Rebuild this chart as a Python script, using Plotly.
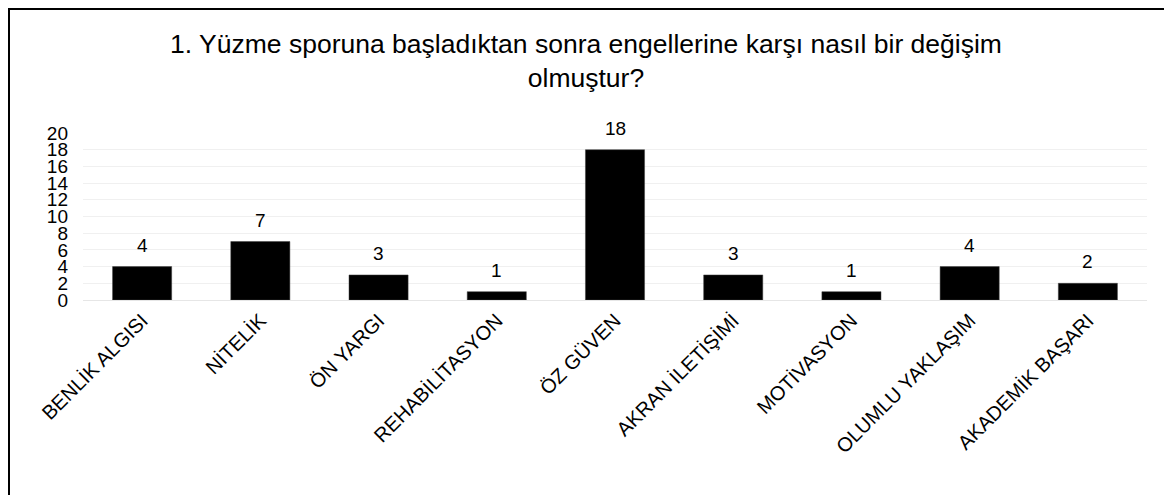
import plotly.graph_objects as go

categories = ["BENLİK ALGISI", "NİTELİK", "ÖN YARGI", "REHABİLİTASYON", "ÖZ GÜVEN",
              "AKRAN İLETİŞİMİ", "MOTİVASYON", "OLUMLU YAKLAŞIM", "AKADEMİK BAŞARI"]
values = [4, 7, 3, 1, 18, 3, 1, 4, 2]
title_text = "1. Yüzme sporuna başladıktan sonra engellerine karşı nasıl bir değişim<br>olmuştur?"

FONT = "Liberation Sans, Arial, sans-serif"

# page has an 8px body margin; figure sized/offset to compensate
W, H = 1164, 487
ml, mr, mt, mb = 75, 25, 125, 195
pw, ph = W - ml - mr, H - mt - mb

fig = go.Figure()
fig.add_trace(go.Bar(
    x=categories, y=values,
    marker=dict(color="#000000", line=dict(color="#404040", width=0.5)),
    hoverinfo="x+y",
))

for c, v in zip(categories, values):
    fig.add_annotation(x=c, y=v, text=str(v), showarrow=False, yanchor="bottom",
                       yshift=9, font=dict(family=FONT, size=19, color="#000000"))

# outer border (decorative frame)
fig.add_shape(type="rect", xref="paper", yref="paper",
              x0=(1 - ml) / pw, x1=(W + 20 - ml) / pw,
              y0=(mt + ph - (H + 20)) / ph, y1=(mt + ph - 1) / ph,
              line=dict(color="#000000", width=2), fillcolor="rgba(0,0,0,0)", layer="below")

fig.update_layout(
    width=W, height=H,
    margin=dict(l=ml, r=mr, t=mt, b=mb),
    paper_bgcolor="white", plot_bgcolor="white",
    bargap=0.5,
    showlegend=False,
    font=dict(family=FONT, size=19, color="#000000"),
    title=dict(text=title_text, x=(586 - 8) / W, xref="container", xanchor="center",
               y=1 - 45 / H, yanchor="top",
               font=dict(family=FONT, size=26.5, color="#000000")),
    xaxis=dict(tickangle=-45, showgrid=False, showline=True, linecolor="#e6e6e6",
               linewidth=1, ticks="", tickfont=dict(size=20, color="#000000")),
    yaxis=dict(range=[0, 20], dtick=2, showgrid=True, gridcolor="#f0f0f0",
               zeroline=False, showline=False, ticks="", ticklabelstandoff=14,
               tickfont=dict(size=19, color="#000000")),
)

fig.write_html("out.html")
